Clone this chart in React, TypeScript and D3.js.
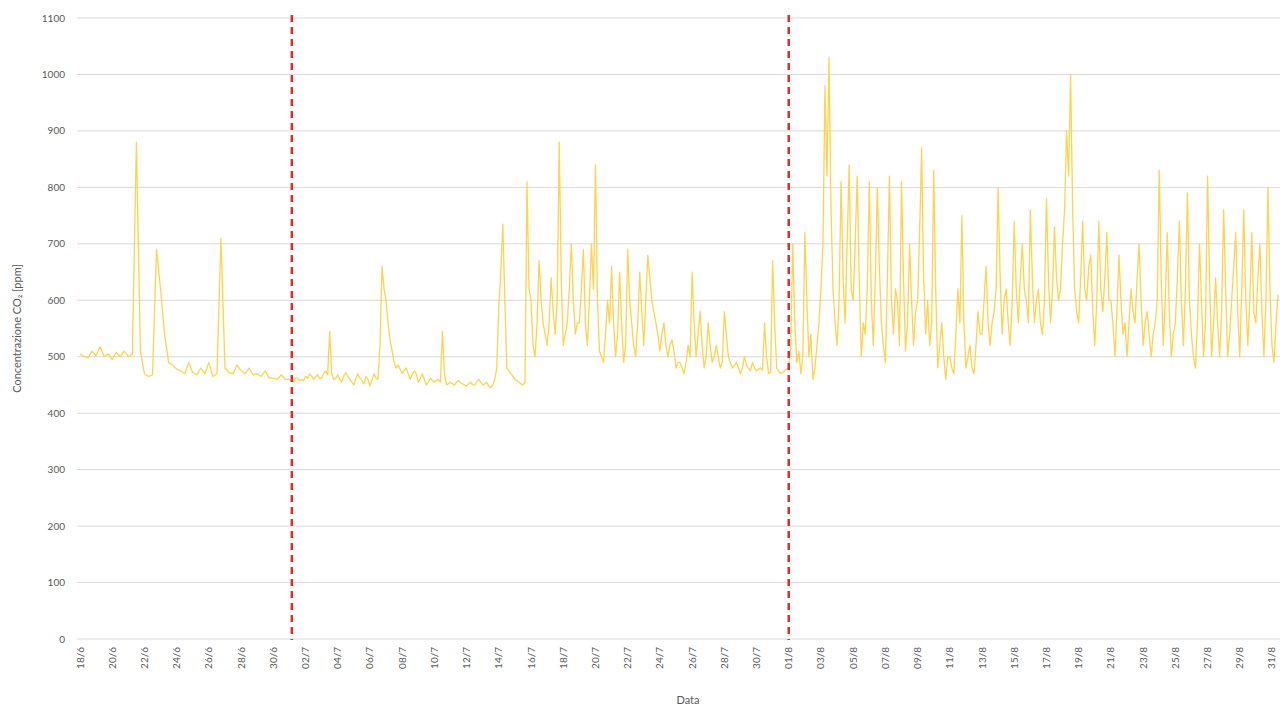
import React from 'react';
import * as d3 from 'd3';

// CO2 readings from 18/6 (day 0). June: 4 samples/day, July and August: 8 samples/day
const juneValues = [
  505, 500, 498, 510, 502, 518, 500, 505, 495, 508, 500, 510,
  500, 505, 880, 510, 470, 465, 468, 690, 620, 540, 490, 485,
  478, 475, 470, 490, 472, 468, 480, 470, 490, 465, 470, 710,
  480, 472, 470, 485, 475, 470, 480, 468, 470, 465, 475, 462,
  462, 460, 468, 460,
];

const julyValues = [
  460, 458, 455, 462, 462, 458, 460, 458,
  465, 462, 470, 466, 460, 464, 468, 462,
  462, 470, 475, 468, 545, 470, 460, 462,
  468, 460, 455, 466, 472, 465, 460, 455,
  450, 462, 470, 462, 458, 452, 465, 460,
  448, 458, 470, 462, 460, 520, 660, 620,
  600, 560, 530, 510, 490, 480, 485, 478,
  470, 476, 480, 470, 460, 468, 475, 470,
  455, 462, 470, 460, 450, 455, 462, 458,
  455, 458, 460, 455, 545, 470, 450, 452,
  455, 452, 450, 455, 458, 454, 452, 450,
  448, 452, 455, 450, 450, 455, 460, 455,
  450, 452, 455, 448, 445, 450, 460, 480,
  590, 650, 735, 600, 480, 475, 470, 465,
  460, 458, 455, 452, 450, 455, 810, 620,
  600, 520, 500, 560, 670, 600, 560, 540,
  520, 560, 640, 580, 540, 600, 880, 640,
  520, 540, 560, 620, 700, 600, 540, 560,
  560, 620, 690, 560, 520, 600, 700, 620,
  840, 600, 510, 500, 490, 540, 600, 560,
  660, 560, 500, 540, 650, 560, 490, 520,
  690, 600, 560, 520, 500, 560, 650, 580,
  520, 600, 680, 640, 600, 580, 560, 540,
  510, 540, 560, 520, 500, 520, 530, 510,
  480, 490, 490, 480, 470, 490, 520, 500,
  650, 560, 500, 540, 580, 520, 480, 500,
  560, 520, 490, 500, 520, 500, 480, 490,
  580, 540, 500, 490, 480, 485, 490, 480,
  470, 480, 500, 485, 480, 475, 490, 480,
  475, 478, 480, 476, 560, 500, 470, 472,
  670, 560, 480, 475, 470, 472, 475, 478,
];

const augustValues = [
  480, 520, 700, 560, 490, 510, 470, 500,
  720, 600, 500, 540, 460, 480, 520, 560,
  620, 700, 980, 820, 1030, 760, 620, 560,
  520, 600, 810, 640, 560, 700, 840, 620,
  600, 700, 820, 640, 500, 560, 540, 620,
  810, 600, 520, 640, 800, 660, 560, 520,
  490, 640, 820, 600, 540, 620, 600, 520,
  810, 640, 510, 560, 700, 600, 520, 580,
  600, 720, 870, 640, 540, 600, 520, 560,
  830, 620, 480, 520, 560, 500, 460, 500,
  500, 480, 470, 540, 620, 560, 750, 560,
  480, 500, 520, 480, 470, 520, 580, 540,
  540, 600, 660, 560, 520, 560, 580, 620,
  800, 640, 540, 600, 620, 560, 520, 600,
  740, 620, 560, 640, 700, 620, 600, 560,
  760, 640, 560, 600, 620, 560, 540, 600,
  780, 640, 560, 620, 730, 640, 600, 620,
  700, 760, 900, 820, 1000, 760, 620, 580,
  560, 640, 740, 620, 600, 660, 680, 580,
  520, 600, 740, 620, 580, 640, 720, 600,
  600, 560, 500, 580, 680, 600, 540, 560,
  500, 560, 620, 580, 560, 640, 700, 600,
  520, 560, 580, 540, 500, 540, 560, 600,
  830, 640, 520, 600, 720, 580, 500, 540,
  560, 640, 740, 600, 520, 620, 790, 600,
  540, 500, 480, 560, 700, 600, 500, 560,
  820, 640, 500, 560, 640, 560, 500, 580,
  760, 620, 500, 540, 600, 660, 720, 580,
  500, 620, 760, 600, 520, 600, 720, 580,
  560, 640, 700, 580, 500, 600, 800, 620,
  520, 490, 560, 610,
];

const segments = [
  { values: juneValues, startDay: 0, perDay: 4 },
  { values: julyValues, startDay: 13, perDay: 8 },
  { values: augustValues, startDay: 44, perDay: 8 },
];

const tickLabels = [
  '18/6', '20/6', '22/6', '24/6', '26/6', '28/6', '30/6',
  '02/7', '04/7', '06/7', '08/7', '10/7', '12/7', '14/7', '16/7', '18/7',
  '20/7', '22/7', '24/7', '26/7', '28/7', '30/7',
  '01/8', '03/8', '05/8', '07/8', '09/8', '11/8', '13/8', '15/8', '17/8',
  '19/8', '21/8', '23/8', '25/8', '27/8', '29/8', '31/8',
];
const tickDays = tickLabels.map((_, i) => i * 2);

const yTicks = [0, 100, 200, 300, 400, 500, 600, 700, 800, 900, 1000, 1100];

// month boundaries marked with red dashed lines (day index from 18/6)
const markerDays = [13.15, 44];

const W = 1280;
const H = 706;
const font = 'Lato, "Open Sans", sans-serif';
const textColor = '#595959';

const App: React.FC = () => {
  const points = segments.flatMap(s =>
    s.values.map((v, i) => ({ day: s.startDay + i / s.perDay, v }))
  );

  const x = d3.scaleLinear().domain([0, 74.4]).range([80, 1278.4]);
  const y = d3.scaleLinear().domain([0, 1100]).range([639, 18]);

  const line = d3
    .line<{ day: number; v: number }>()
    .x(d => x(d.day))
    .y(d => y(d.v));

  return (
    <svg
      width={W}
      height={H}
      style={{ position: 'absolute', left: 0, top: 0, background: '#fff' }}
      fontFamily={font}
    >
      {/* gridlines */}
      {yTicks.map(t => (
        <line
          key={'g' + t}
          x1={77}
          x2={1280}
          y1={y(t)}
          y2={y(t)}
          stroke="#d9d9d9"
          strokeWidth={1}
        />
      ))}

      {/* y tick labels */}
      {yTicks.map(t => (
        <text
          key={'yl' + t}
          x={65}
          y={y(t)}
          dy="0.35em"
          textAnchor="end"
          fontSize={10}
          fill={textColor}
        >
          {t}
        </text>
      ))}

      {/* x tick labels */}
      {tickDays.map((d, i) => (
        <text
          key={'xl' + i}
          transform={`translate(${x(d)},${647}) rotate(-90)`}
          dy="0.35em"
          textAnchor="end"
          fontSize={10}
          fill={textColor}
        >
          {tickLabels[i]}
        </text>
      ))}

      {/* data line */}
      <path
        d={line(points) || ''}
        fill="none"
        stroke="#FFD24F"
        strokeWidth={1.3}
        strokeLinejoin="round"
      />

      {/* month markers */}
      {markerDays.map(d => (
        <line
          key={'m' + d}
          x1={x(d)}
          x2={x(d)}
          y1={15}
          y2={640}
          stroke="#e8282b"
          strokeWidth={2.5}
          strokeDasharray="7,5"
        />
      ))}

      {/* axis titles */}
      <text
        transform={`translate(${21},${y(550)}) rotate(-90)`}
        textAnchor="middle"
        fontSize={11}
        fill={textColor}
      >
        Concentrazione CO₂ [ppm]
      </text>
      <text x={688} y={704} textAnchor="middle" fontSize={11} fill={textColor}>
        Data
      </text>
    </svg>
  );
};

export default App;
